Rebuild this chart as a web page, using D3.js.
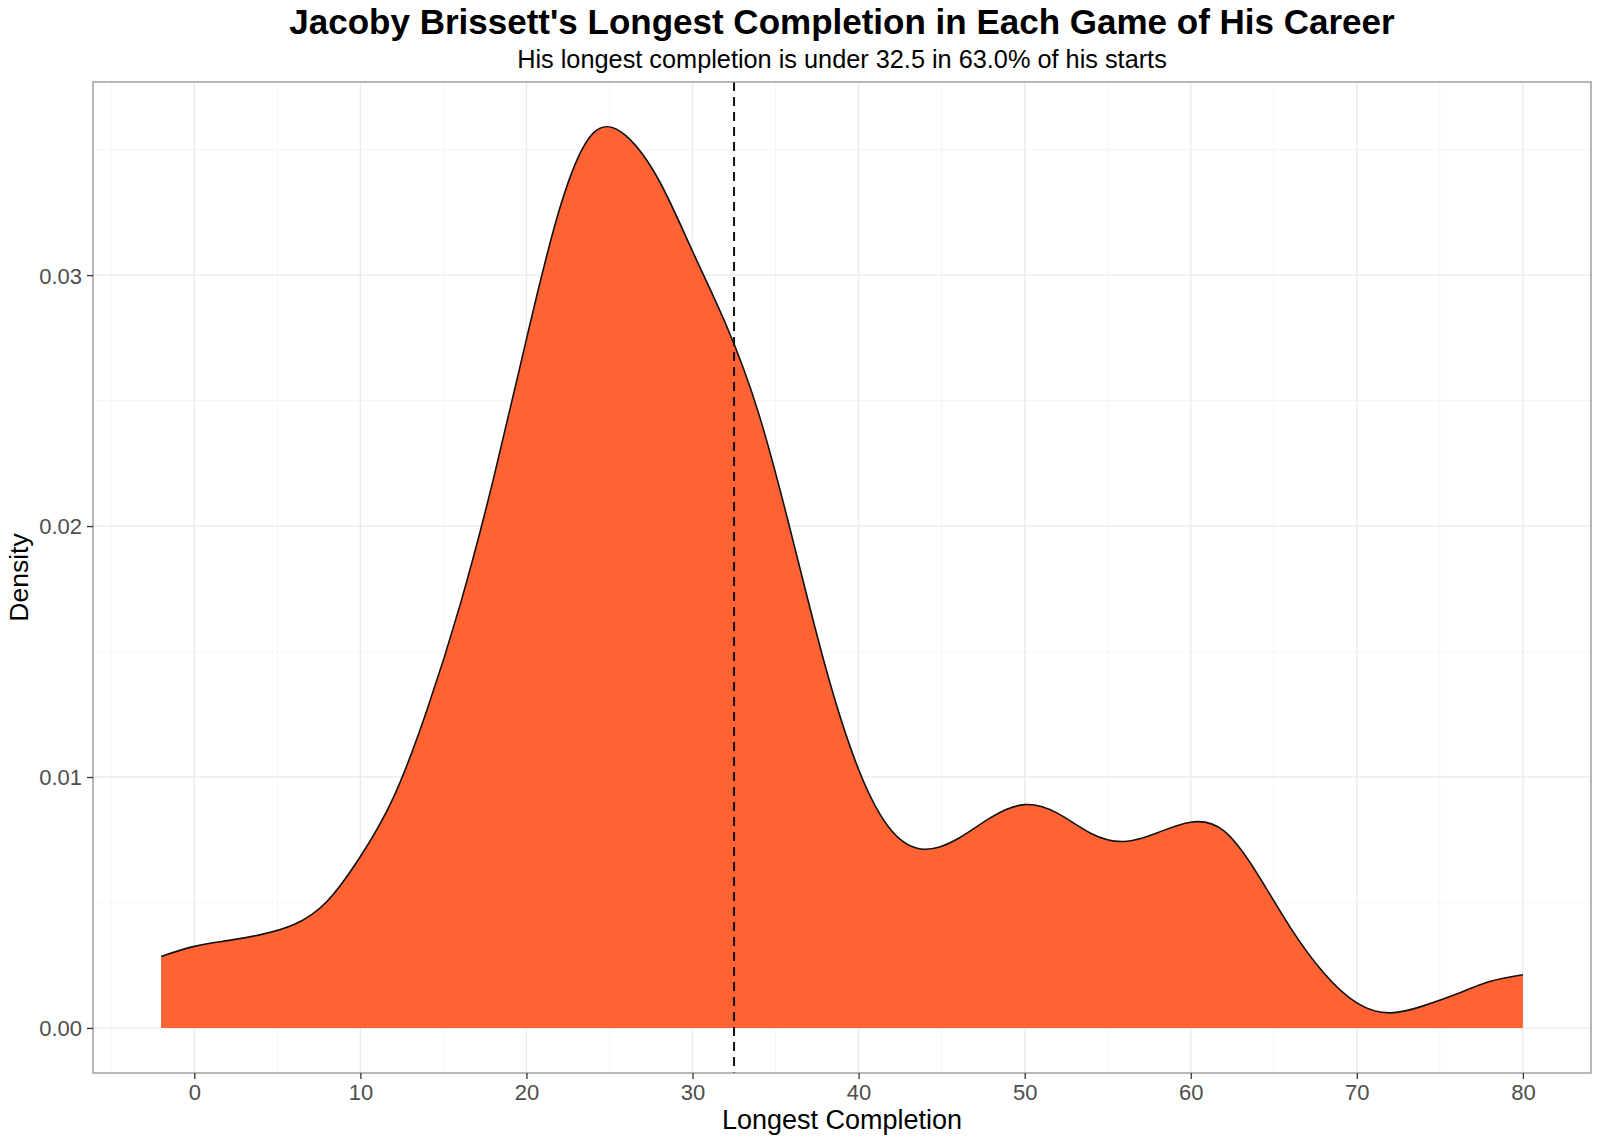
<!DOCTYPE html>
<html>
<head>
<meta charset="utf-8">
<script src="https://cdn.jsdelivr.net/npm/d3@7"></script>
<style>
  body { margin: 0; background: #fff; }
  text { font-family: "Liberation Sans", Arial, sans-serif; }
</style>
</head>
<body>
<div id="wrapper"></div>
<script>
// values (density estimate of longest completion), every 2 yards
const xs = [-2, 0, 2, 4, 6, 8, 10, 12, 14, 16, 18, 20, 22, 24, 26, 28, 30, 32, 34, 36, 38, 40,
  42, 44, 46, 48, 50, 52, 54, 56, 58, 60, 62, 64, 66, 68, 70, 72, 74, 76, 78, 80]
const densities = [0.00285, 0.00325, 0.00348, 0.00372, 0.00412, 0.00505, 0.00683, 0.0092,
  0.01265, 0.01685, 0.02185, 0.02745, 0.03265, 0.03565, 0.03555, 0.03375, 0.03095, 0.02805,
  0.02445, 0.01955, 0.0144, 0.0103, 0.00785, 0.00712, 0.00755, 0.0084, 0.0089, 0.00855, 0.00775,
  0.00743, 0.00778, 0.0082, 0.00785, 0.00615, 0.004, 0.0022, 0.001, 0.0006, 0.00088, 0.00135,
  0.00185, 0.00212]
const cutoff = 32.5
const xTicks = [0, 10, 20, 30, 40, 50, 60, 70, 80]
const xMinor = [-5, 5, 15, 25, 35, 45, 55, 65, 75]
const yTicks = [0, 0.01, 0.02, 0.03]
const yMinor = [0.005, 0.015, 0.025, 0.035]
const titleText = "Jacoby Brissett's Longest Completion in Each Game of His Career"
const subtitleText = "His longest completion is under 32.5 in 63.0% of his starts"

const points = xs.map((x, i) => ({ x: x, y: densities[i] }))

const dimensions = {
  width: 1600,
  height: 1143,
  margin: { top: 82, right: 9, bottom: 70, left: 93 },
}
dimensions.boundedWidth = dimensions.width - dimensions.margin.left - dimensions.margin.right
dimensions.boundedHeight = dimensions.height - dimensions.margin.top - dimensions.margin.bottom

const svg = d3.select("#wrapper").append("svg")
  .attr("width", dimensions.width)
  .attr("height", dimensions.height)

const bounds = svg.append("g")
  .attr("transform", `translate(${dimensions.margin.left},${dimensions.margin.top})`)

// ggplot style 5% expansion
const xExt = d3.extent(xs)
const xPad = (xExt[1] - xExt[0]) * 0.05
const yMax = 0.0359 // peak of the curve
const xScale = d3.scaleLinear()
  .domain([xExt[0] - xPad, xExt[1] + xPad])
  .range([0, dimensions.boundedWidth])
const yScale = d3.scaleLinear()
  .domain([-yMax * 0.05, yMax * 1.05])
  .range([dimensions.boundedHeight, 0])

// grid
const grid = bounds.append("g")
grid.selectAll(".xminor").data(xMinor).join("line")
  .attr("x1", d => xScale(d)).attr("x2", d => xScale(d))
  .attr("y1", 0).attr("y2", dimensions.boundedHeight)
  .attr("stroke", "#f2f2f2").attr("stroke-width", 0.8)
grid.selectAll(".yminor").data(yMinor).join("line")
  .attr("y1", d => yScale(d)).attr("y2", d => yScale(d))
  .attr("x1", 0).attr("x2", dimensions.boundedWidth)
  .attr("stroke", "#f2f2f2").attr("stroke-width", 0.8)
grid.selectAll(".xmajor").data(xTicks).join("line")
  .attr("x1", d => xScale(d)).attr("x2", d => xScale(d))
  .attr("y1", 0).attr("y2", dimensions.boundedHeight)
  .attr("stroke", "#ebebeb").attr("stroke-width", 1.4)
grid.selectAll(".ymajor").data(yTicks).join("line")
  .attr("y1", d => yScale(d)).attr("y2", d => yScale(d))
  .attr("x1", 0).attr("x2", dimensions.boundedWidth)
  .attr("stroke", "#ebebeb").attr("stroke-width", 1.4)

// density (evenly spaced points so the natural spline stays smooth)
const curve = d3.curveNatural
const areaGenerator = d3.area()
  .x(d => xScale(d.x))
  .y0(yScale(0))
  .y1(d => yScale(d.y))
  .curve(curve)
const lineGenerator = d3.line()
  .x(d => xScale(d.x))
  .y(d => yScale(d.y))
  .curve(curve)

bounds.append("path")
  .datum(points)
  .attr("d", areaGenerator)
  .attr("fill", "#ff6333")
bounds.append("path")
  .datum(points)
  .attr("d", lineGenerator)
  .attr("fill", "none")
  .attr("stroke", "#111")
  .attr("stroke-width", 1.6)

// cutoff line
bounds.append("line")
  .attr("x1", xScale(cutoff)).attr("x2", xScale(cutoff))
  .attr("y1", 0).attr("y2", dimensions.boundedHeight)
  .attr("stroke", "#111")
  .attr("stroke-width", 2)
  .attr("stroke-dasharray", "9,6")

// border
bounds.append("rect")
  .attr("width", dimensions.boundedWidth)
  .attr("height", dimensions.boundedHeight)
  .attr("fill", "none")
  .attr("stroke", "#999")
  .attr("stroke-width", 1.4)

// axes
const xAxis = bounds.append("g")
  .attr("transform", `translate(0,${dimensions.boundedHeight})`)
  .call(d3.axisBottom(xScale).tickValues(xTicks).tickSize(6).tickPadding(5).tickFormat(d3.format("d")))
const yAxis = bounds.append("g")
  .call(d3.axisLeft(yScale).tickValues(yTicks).tickSize(6).tickPadding(5).tickFormat(d3.format(".2f")))

;[xAxis, yAxis].forEach(a => {
  a.select(".domain").remove()
  a.selectAll(".tick line").attr("stroke", "#333").attr("stroke-width", 1.3)
  a.selectAll(".tick text")
    .attr("fill", "#4d4d4d")
    .style("font-size", "22px")
    .style("font-family", '"Liberation Sans", Arial, sans-serif')
})
xAxis.selectAll(".tick text").attr("dy", "0.74em")
yAxis.selectAll(".tick text").attr("dy", "0.36em")

// titles
const cx = dimensions.margin.left + dimensions.boundedWidth / 2
svg.append("text")
  .attr("x", cx).attr("y", 34)
  .attr("text-anchor", "middle")
  .style("font-size", "35px")
  .style("font-weight", "bold")
  .attr("fill", "#000")
  .text(titleText)
svg.append("text")
  .attr("x", cx).attr("y", 68)
  .attr("text-anchor", "middle")
  .style("font-size", "25.3px")
  .attr("fill", "#000")
  .text(subtitleText)
svg.append("text")
  .attr("x", cx).attr("y", 1129)
  .attr("text-anchor", "middle")
  .style("font-size", "27px")
  .attr("fill", "#000")
  .text("Longest Completion")
svg.append("text")
  .attr("transform", `translate(28,${dimensions.margin.top + dimensions.boundedHeight / 2}) rotate(-90)`)
  .attr("text-anchor", "middle")
  .style("font-size", "26.5px")
  .attr("fill", "#000")
  .text("Density")
</script>
</body>
</html>
